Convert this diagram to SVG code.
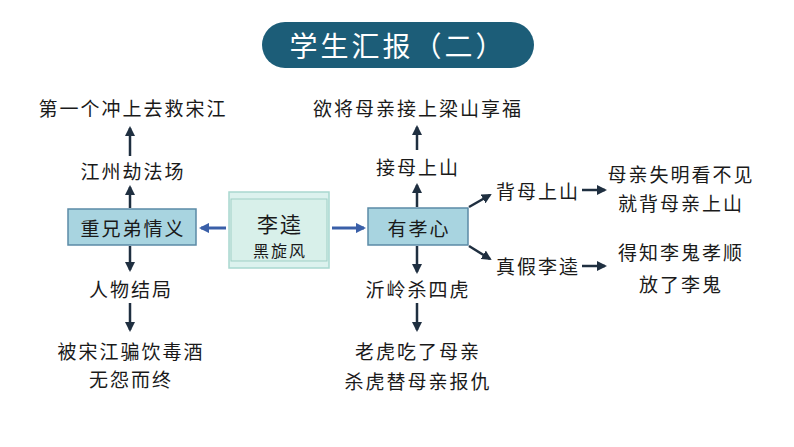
<svg xmlns="http://www.w3.org/2000/svg" width="794" height="447" viewBox="0 0 794 447">
<style>
text{font-family:"Noto Sans CJK SC","Noto Sans",sans-serif;fill:#1a1a1a;font-size:19px;letter-spacing:2px;text-anchor:middle;dominant-baseline:central}
.box{fill:#a8d4e0;stroke:#5b8aa6;stroke-width:1.5}
.dk{stroke:#1f2f40;stroke-width:2.5;fill:none;marker-end:url(#a)}
.bl{stroke:#3a5fa8;stroke-width:3;fill:none;marker-end:url(#b)}
</style>
<defs>
<marker id="a" viewBox="0 0 10 10" refX="8" refY="5" markerWidth="4" markerHeight="4" orient="auto"><path d="M0,0L10,5L0,10z" fill="#1f2f40"/></marker>
<marker id="b" viewBox="0 0 10 10" refX="8" refY="5" markerWidth="3.5" markerHeight="3.5" orient="auto"><path d="M0,0L10,5L0,10z" fill="#3a5fa8"/></marker>
</defs>
<g id="title"><rect x="262" y="22" width="272" height="46" rx="23" fill="#1c5d78"/><text x="398" y="45" style="fill:#fff;font-size:28px;letter-spacing:3px">学生汇报（二）</text></g>
<g id="center"><rect x="229" y="192" width="100" height="76" fill="#dcf2ee" stroke="#a9d8d0" stroke-width="1.5"/><rect x="231" y="199" width="96" height="62" fill="#d8f0ea" stroke="#9fcfc5"/><text x="280" y="223" style="font-size:21px">李逵</text><text x="280" y="250" style="font-size:16px">黑旋风</text></g>
<g id="left"><rect class="box" x="68" y="209" width="128" height="36"/><text x="133" y="227">重兄弟情义</text></g>
<g id="right"><rect class="box" x="368" y="208" width="100" height="37"/><text x="419" y="227">有孝心</text></g>
<g id="texts">
<text x="133" y="170">江州劫法场</text>
<text x="133" y="107">第一个冲上去救宋江</text>
<text x="131" y="288">人物结局</text>
<text x="131" y="350">被宋江骗饮毒酒</text>
<text x="131" y="378">无怨而终</text>
<text x="418" y="166">接母上山</text>
<text x="418" y="107">欲将母亲接上梁山享福</text>
<text x="418" y="288">沂岭杀四虎</text>
<text x="418" y="350">老虎吃了母亲</text>
<text x="418" y="380">杀虎替母亲报仇</text>
<text x="538" y="190">背母上山</text>
<text x="538" y="265">真假李逵</text>
<text x="681" y="173">母亲失明看不见</text>
<text x="681" y="202">就背母亲上山</text>
<text x="681" y="251">得知李鬼孝顺</text>
<text x="681" y="283">放了李鬼</text>
</g>
<g id="connectors">
<path class="bl" d="M226 228H201"/>
<path class="bl" d="M332 228H364"/>
<path class="dk" d="M130 208V187"/>
<path class="dk" d="M130 156V128"/>
<path class="dk" d="M130 246V270"/>
<path class="dk" d="M130 303V330"/>
<path class="dk" d="M417 207V185"/>
<path class="dk" d="M417 150V127"/>
<path class="dk" d="M417 246V272"/>
<path class="dk" d="M417 303V330"/>
<path class="dk" d="M469 207L490 195"/>
<path class="dk" d="M469 246L490 259"/>
<path class="dk" d="M582 190H605"/>
<path class="dk" d="M582 266H605"/>
</g>
</svg>
